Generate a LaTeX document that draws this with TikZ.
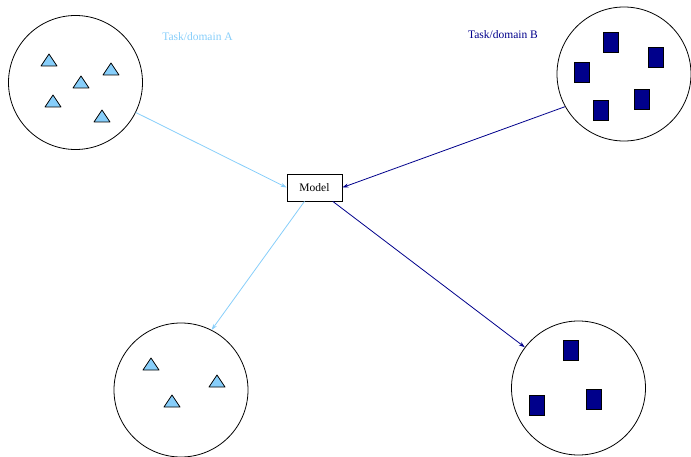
\documentclass[tikz,border=0pt]{standalone}
\usepackage{fontspec}
\setmainfont{Liberation Serif}
\usetikzlibrary{arrows.meta}
\definecolor{skyA}{RGB}{135,206,250}
\definecolor{navyB}{RGB}{0,0,139}

\begin{document}
\begin{tikzpicture}[x=1pt, y=-1pt,
    every node/.style={font=\fontsize{11.5}{13}\selectfont},
    dataset/.style={draw=black, line width=0.8pt, circle, minimum size=134pt, inner sep=0pt},
    model/.style={draw=black, line width=0.8pt, rectangle, minimum width=55pt, minimum height=27pt, inner sep=0pt},
    flowA/.style={draw=skyA, line width=0.8pt, -{Stealth[length=6pt, width=4pt]}},
    flowB/.style={draw=navyB, line width=0.8pt, -{Stealth[length=6pt, width=4pt]}},
    pics/tri/.style={code={\draw[fill=skyA, line width=0.8pt, line join=round]
        (-8,6) -- (8,6) -- (0,-6) -- cycle;}},
    pics/blk/.style={code={\draw[fill=navyB, line width=0.8pt]
        (-7.5,-10) rectangle (7.5,10);}}]
  \useasboundingbox (0,0) rectangle (691,457);
  % los cuatro conjuntos y el modelo
  \node[dataset] (srcA) at (75.5,82.5) {};
  \node[dataset] (srcB) at (624,74) {};
  \node[dataset] (dstA) at (181,390) {};
  \node[dataset] (dstB) at (578.5,388) {};
  \node[model] (mdl) at (314.5,187.5) {Model};
  \node[text=skyA] (labA) at (197.5,37) {Task/domain A};
  \node[text=navyB] (labB) at (503,35) {Task/domain B};
  % ejemplos de cada tarea
  \foreach \px/\py in {49/60, 81/82, 111/69, 53/101, 102/116, 151/364, 217/381, 172/401}
    \pic at (\px,\py) {tri};
  \foreach \px/\py in {610.5/42, 656/57.5, 582/72.5, 642/99, 601/110.5, 571/350.5, 594/399.5, 537/405.5}
    \pic at (\px,\py) {blk};
  % flechas
  \draw[flowA] (srcA) -- (mdl.west);
  \draw[flowB] (srcB.209) -- (mdl.east);
  \draw[flowA] (mdl) -- (dstA.63);
  \draw[flowB] (mdl) -- (dstB);
\end{tikzpicture}
\end{document}
